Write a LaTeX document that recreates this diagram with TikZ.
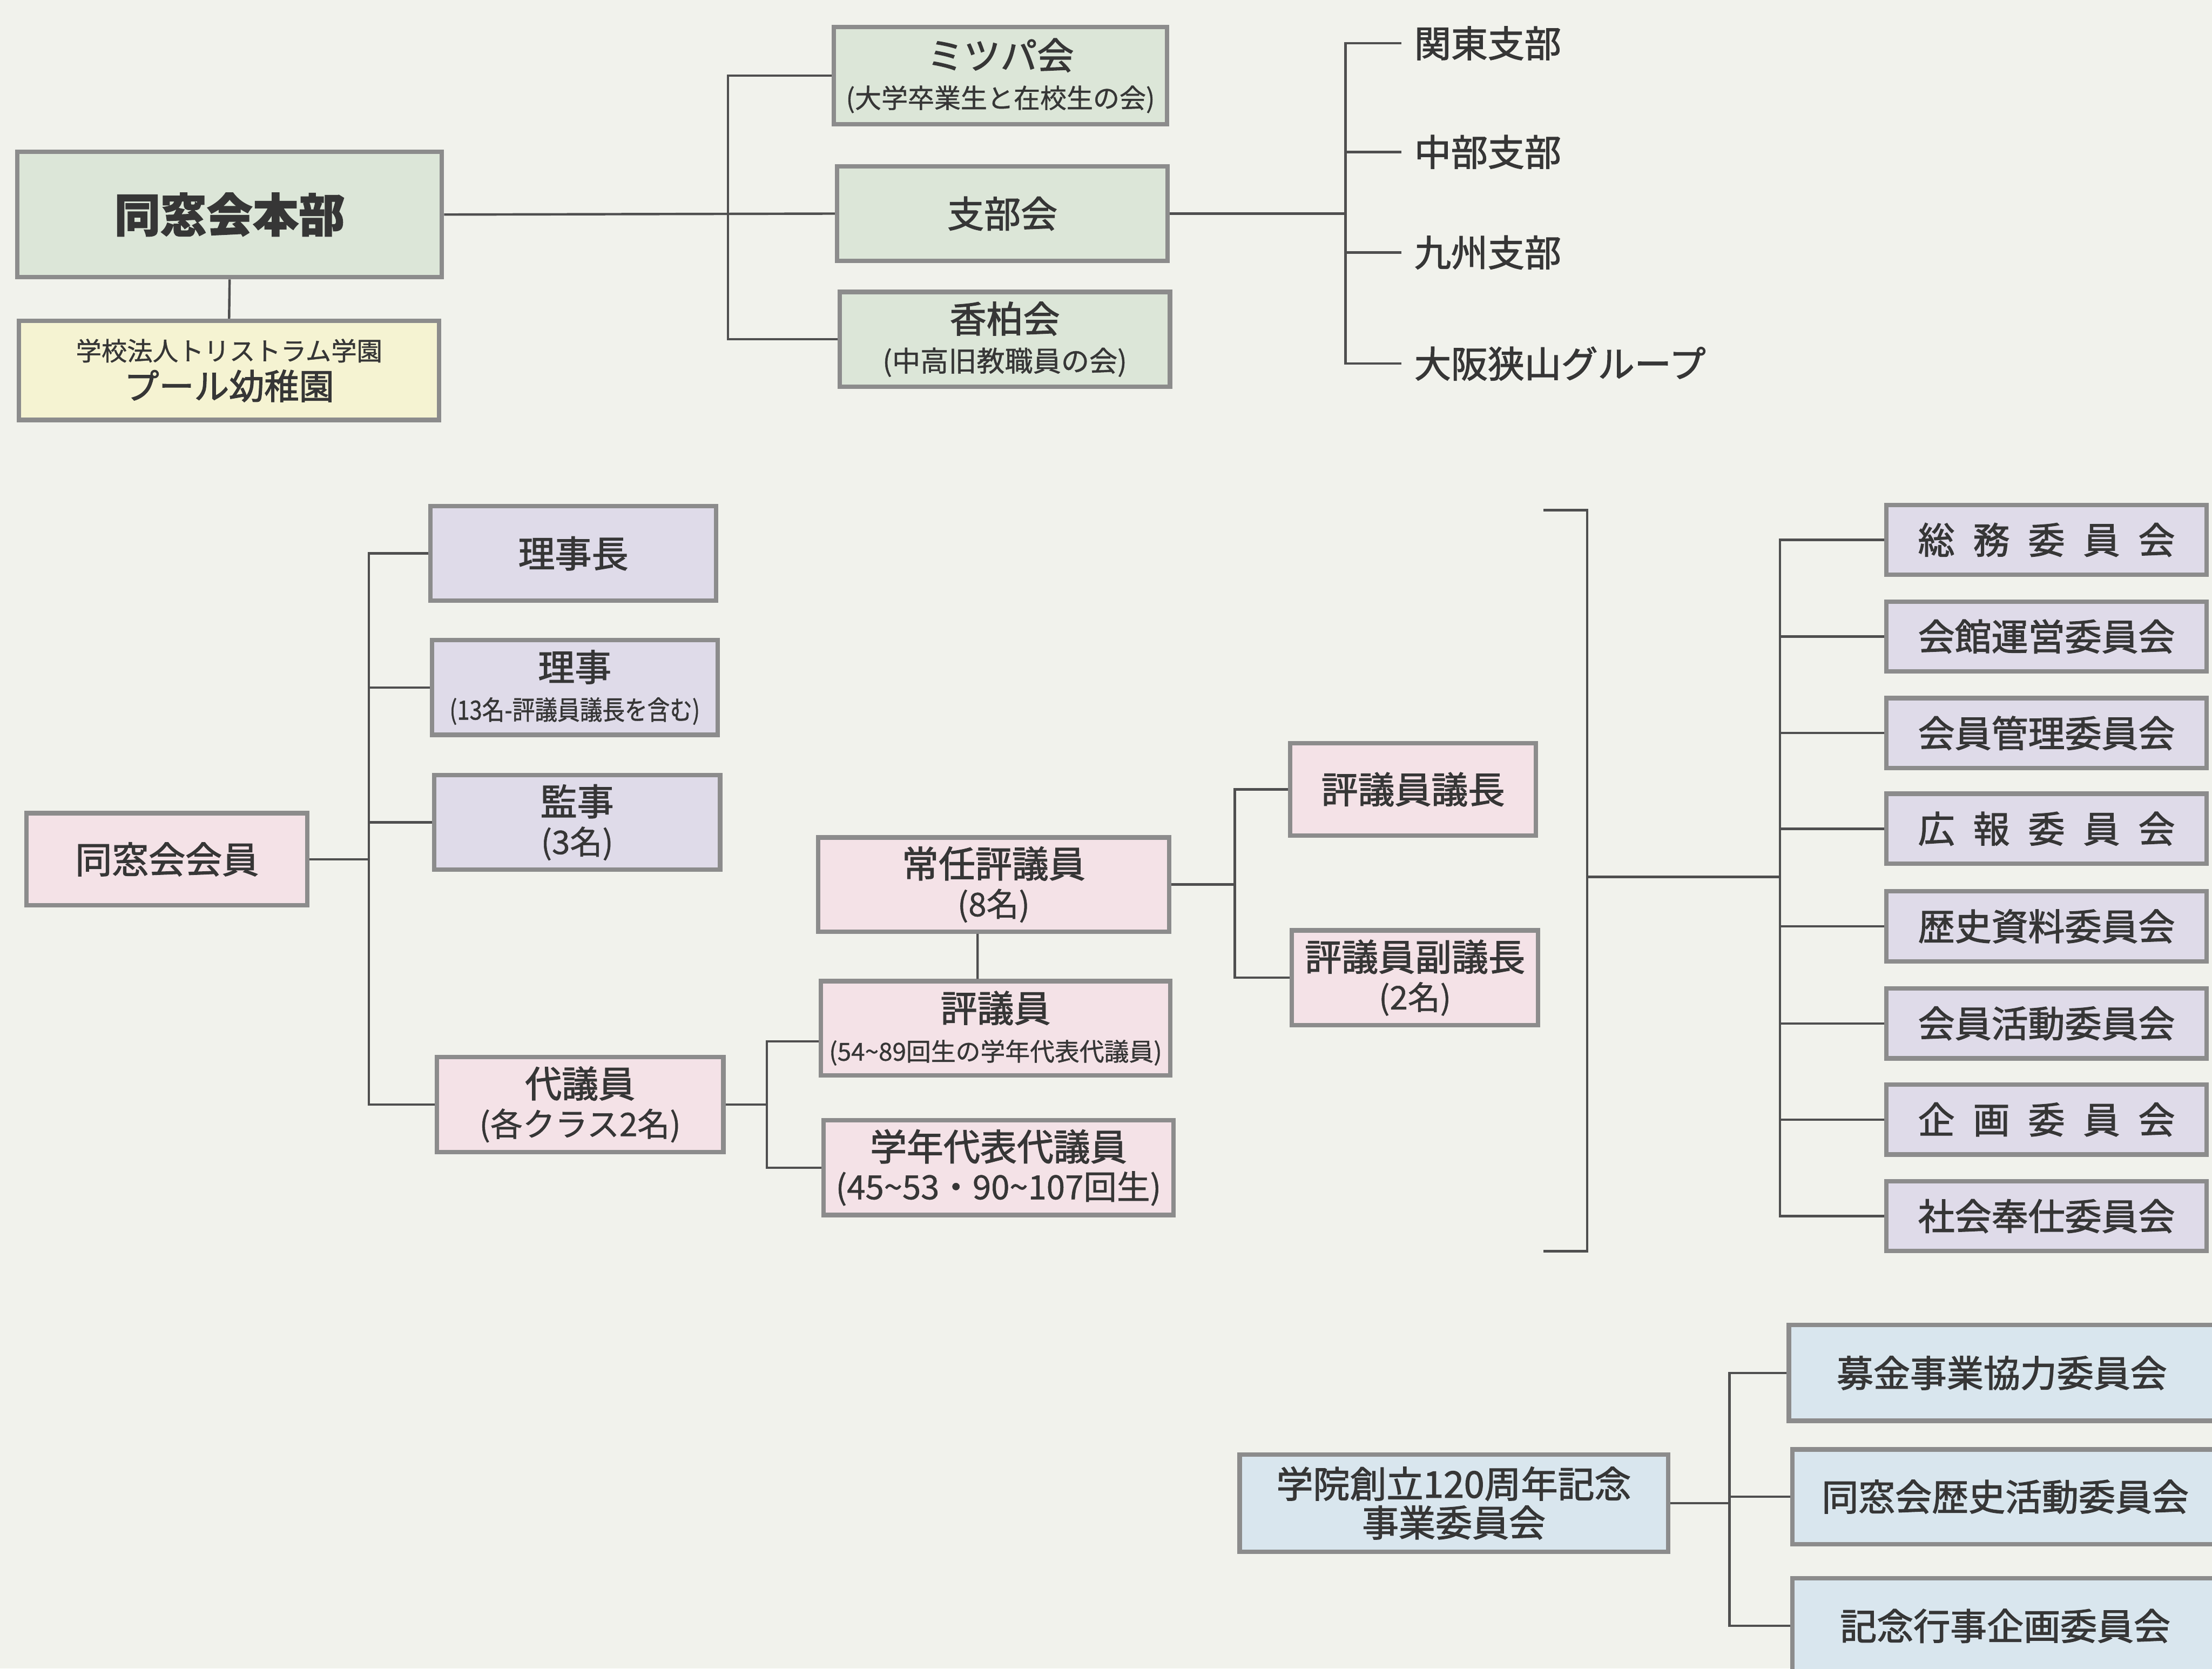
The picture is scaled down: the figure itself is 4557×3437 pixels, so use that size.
\documentclass[tikz,border=0pt]{standalone}
\usepackage{fontspec}
\setmainfont{Noto Sans CJK JP}
\newfontfamily\jpm{Noto Sans CJK JP}[FakeBold=1.8]
\newfontfamily\jpr{Noto Sans CJK JP}[FakeBold=0.9]
\newfontfamily\jpc{Noto Sans CJK JP}[FakeBold=0.9, FakeStretch=0.85]
\newfontfamily\jpb{Noto Sans CJK JP}[BoldFeatures={FakeBold=1.5}]
\newcommand\mysub[1]{\jpr\fontsize{#1}{22.7}\selectfont}
\definecolor{bgc}{HTML}{F1F2EC}
\definecolor{cgreen}{HTML}{DCE6D8}
\definecolor{cyellow}{HTML}{F5F3D2}
\definecolor{clav}{HTML}{DFDBE9}
\definecolor{cpink}{HTML}{F4E2E7}
\definecolor{cblue}{HTML}{D9E6EE}
\definecolor{bord}{HTML}{8C8C8C}
\definecolor{lnc}{HTML}{4F4F4F}
\definecolor{txt}{HTML}{363636}
\tikzset{
  box/.style={draw=bord, line width=2.6pt, text=txt, inner sep=0pt, align=center,
    font=\jpm\fontsize{21.5}{22.7}\selectfont},
  ln/.style={draw=lnc, line width=1.4pt},
  lbl/.style={anchor=west, inner sep=0pt, inner xsep=0.26cm, text=txt,
    font=\jpm\fontsize{21.5}{22.7}\selectfont},
}
\begin{document}
\begin{tikzpicture}[x=0.01cm, y=-0.01cm]
\fill[bgc] (0,0) rectangle (4557,3437);
\useasboundingbox (0,0) rectangle (4557,3437);

% ---------- top section ----------
\node[box, fill=cgreen, minimum width=8.74cm, minimum height=2.58cm] (honbu) at (473,442)
  {\jpb\bfseries\fontsize{27}{28}\selectfont 同窓会本部};
\node[box, fill=cyellow, minimum width=8.65cm, minimum height=2.04cm] (school) at (472,763)
  {\mysub{15}学校法人トリストラム学園\\\jpm\fontsize{20.5}{22.7}\selectfont プール幼稚園};
\node[box, fill=cgreen, minimum width=6.86cm, minimum height=2.0cm] (mitsupa) at (2061,156)
  {ミツパ会\\\mysub{15.5}(大学卒業生と在校生の会)};
\node[box, fill=cgreen, minimum width=6.81cm, minimum height=1.95cm] (shibu) at (2065,440)
  {支部会};
\node[box, fill=cgreen, minimum width=6.8cm, minimum height=1.95cm] (kohaku) at (2070,699)
  {香柏会\\\mysub{16.5}(中高旧教職員の会)};

\coordinate (bt) at (1500,440);
\draw[ln] (honbu.south) -- (school.north);
\draw[ln] (honbu.east) -- (shibu.west);
\draw[ln] (mitsupa.west) -| (bt);
\draw[ln] (kohaku.west) -| (bt);

\node[lbl] (kanto) at (2887,89) {関東支部};
\node[lbl] (chubu) at (2887,313) {中部支部};
\node[lbl] (kyushu) at (2887,520) {九州支部};
\node[lbl] (osaka) at (2887,749) {大阪狭山グループ};
\coordinate (br) at (2772,440);
\draw[ln] (shibu.east) -- (br);
\draw[ln] (kanto.west) -| (br);
\draw[ln] (osaka.west) -| (br);
\draw[ln] (chubu.west) -- (chubu.west -| br);
\draw[ln] (kyushu.west) -- (kyushu.west -| br);

% ---------- middle section ----------
\node[box, fill=cpink, minimum width=5.78cm, minimum height=1.9cm] (kaiin) at (344,1770) {同窓会会員};
\node[box, fill=clav, minimum width=5.88cm, minimum height=1.95cm] (rijicho) at (1181,1140) {理事長};
\node[box, fill=clav, minimum width=5.88cm, minimum height=1.95cm] (riji) at (1184,1416)
  {理事\\\jpc\fontsize{15.5}{22.7}\selectfont(13名-評議員議長を含む)};
\node[box, fill=clav, minimum width=5.89cm, minimum height=1.95cm] (kanji) at (1189,1694)
  {監事\\\mysub{19}(3名)};
\node[box, fill=cpink, minimum width=5.9cm, minimum height=1.96cm] (daigiin) at (1195,2275)
  {代議員\\\mysub{19}(各クラス2名)};
\coordinate (mb) at (760,1770);
\draw[ln] (kaiin.east) -- (mb);
\draw[ln] (rijicho.west) -| (mb);
\draw[ln] (daigiin.west) -| (mb);
\draw[ln] (riji.west) -- (riji.west -| mb);
\draw[ln] (kanji.west) -- (kanji.west -| mb);

\node[box, fill=cpink, minimum width=7.23cm, minimum height=1.94cm] (jonin) at (2047,1822)
  {常任評議員\\\mysub{19}(8名)};
\node[box, fill=cpink, minimum width=7.2cm, minimum height=1.94cm] (hyogiin) at (2051,2118)
  {評議員\\\mysub{14.5}(54\char"007E 89回生の学年代表代議員)};
\node[box, fill=cpink, minimum width=7.21cm, minimum height=1.95cm] (gakunen) at (2057,2405)
  {学年代表代議員\\\mysub{19.5}(45\char"007E 53・90\char"007E 107回生)};
\coordinate (db) at (1580,2275);
\draw[ln] (daigiin.east) -- (db);
\draw[ln] (db) |- ([yshift=-0.27cm]hyogiin.west);
\draw[ln] (db) |- (gakunen.west);
\draw[ln] ([xshift=-0.33cm]jonin.south) -- ([xshift=-0.37cm]hyogiin.north);

\node[box, fill=cpink, minimum width=5.06cm, minimum height=1.9cm] (gicho) at (2911,1626) {評議員議長};
\node[box, fill=cpink, minimum width=5.07cm, minimum height=1.95cm] (fukugicho) at (2915,2014)
  {評議員副議長\\\mysub{19}(2名)};
\coordinate (jb) at (2544,1822);
\draw[ln] (jonin.east) -- (jb);
\draw[ln] (gicho.west) -| (jb);
\draw[ln] (fukugicho.west) -| (jb);

% big bracket
\coordinate (bbtl) at (3180,1051);
\coordinate (bbt) at (3270,1051);
\coordinate (bbm) at (3270,1806);
\coordinate (bbb) at (3270,2577);
\coordinate (bbbl) at (3180,2577);
\draw[ln] (bbtl) -- (bbt) -- (bbb) -- (bbbl);
\coordinate (cb) at (3667,1806);
\draw[ln] (bbm) -- (cb);

\foreach \n/\y/\t in {
  c1/1112/{\makebox[7em][s]{総\hfill 務\hfill 委\hfill 員\hfill 会}},
  c2/1311/{会館運営委員会},
  c3/1510/{会員管理委員会},
  c4/1707/{\makebox[7em][s]{広\hfill 報\hfill 委\hfill 員\hfill 会}},
  c5/1908/{歴史資料委員会},
  c6/2108/{会員活動委員会},
  c7/2306/{\makebox[7em][s]{企\hfill 画\hfill 委\hfill 員\hfill 会}},
  c8/2505/{社会奉仕委員会}}{
  \node[box, fill=clav, minimum width=6.6cm, minimum height=1.44cm] (\n) at (4216,\y) {\t};
}
\draw[ln] (c1.west) -| (cb);
\draw[ln] (c8.west) -| (cb);
\foreach \n in {c2,c3,c4,c5,c6,c7}{
  \draw[ln] (\n.west) -- (\n.west -| cb);
}

% ---------- bottom section ----------
\node[box, fill=cblue, minimum width=8.82cm, minimum height=2.0cm] (kinen) at (2995,3096)
  {学院創立120周年記念\\事業委員会};
\node[box, fill=cblue, minimum width=8.77cm, minimum height=1.97cm] (boshu) at (4124,2828)
  {募金事業協力委員会};
\node[box, fill=cblue, minimum width=8.77cm, minimum height=1.95cm] (rekishi) at (4131,3083)
  {同窓会歴史活動委員会};
\node[box, fill=cblue, minimum width=8.77cm, minimum height=1.97cm] (gyoji) at (4131,3349)
  {記念行事企画委員会};
\coordinate (kb) at (3563,3096);
\draw[ln] (kinen.east) -- (kb);
\draw[ln] (boshu.west) -| (kb);
\draw[ln] (gyoji.west) -| (kb);
\draw[ln] (rekishi.west) -- (rekishi.west -| kb);
\end{tikzpicture}
\end{document}
